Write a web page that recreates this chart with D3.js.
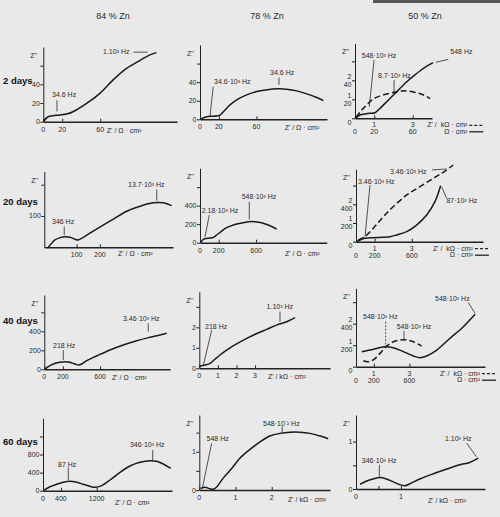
<!DOCTYPE html>
<html>
<head>
<meta charset="utf-8">
<script src="https://cdn.jsdelivr.net/npm/d3@7"></script>
<style>
    body { margin: 0; background: #e9e9e9; }
    svg { display: block; }
    .tk { font-family: "Liberation Sans", Arial, sans-serif; font-size: 7px; fill: #2a2a2a; }
    .row { font-family: "Liberation Sans", Arial, sans-serif; font-size: 9.5px; font-weight: bold; fill: #111; }
    .col { font-family: "Liberation Sans", Arial, sans-serif; font-size: 9px; fill: #2a2a2a; }
    .axis path, .axis line { stroke: #222; }
</style>
</head>
<body>
<div id="chart"></div>
<script>
// column and row titles
const columns = ["84 % Zn", "78 % Zn", "50 % Zn"];
const rowLabels = ["2 days", "20 days", "40 days", "60 days"];

// impedance curves, [Z', Z'']
// Ω·cm² unless the name ends in _k (kΩ·cm²)
const zn84_d2 = [[0,0],[5,5.3],[10,6.4],[17.6,7.2],[24.6,8.2],[31.3,10.7],[45.7,19.6],[59.7,30.4],[73.4,44.5],[87.8,57],[101.8,65.5],[112.3,71.6],[119.4,74]];
const zn78_d2 = [[0.7,0],[5.3,2.2],[10.6,3.2],[17.7,3.6],[21.3,4.6],[26.6,10],[31.9,15.5],[39,20.9],[49.6,26.3],[60.3,29.9],[71,31.7],[81.6,32.8],[92.2,32.4],[102.9,30.6],[113.5,27.4],[124.1,23.4],[131.2,20.1]];
const zn50_d2 = [[0,0],[5.2,3.5],[10.4,4.5],[15.6,5.3],[20.8,5.9],[26,10.5],[33,17.5],[39.9,24.5],[46.9,31.6],[53.8,38.5],[60.8,44.5],[67.7,50.1],[74.7,55],[80.9,58.5]];
const zn50_d2_k = [[0.05,0.05],[0.35,0.44],[0.61,0.7],[0.87,0.96],[1.21,1.14],[1.65,1.28],[2.17,1.4],[2.52,1.45],[3.04,1.38],[3.56,1.23],[3.9,1.03]];

const zn84_d20 = [[-21,0],[-7,13],[7,23.5],[29,31],[50,34],[72,32],[93,26],[107,23.5],[129,32],[157,45],[200,64.5],[258,90],[315,115],[372,131],[429,142],[472,142],[508,133]];
const zn78_d20 = [[10,0],[36,37],[89,48],[143,58],[178,83],[232,126],[285,162],[357,191],[428,209],[517,227],[588,227],[660,216],[731,191],[820,148]];
const zn50_d20 = [[7,0],[43,18],[97,36],[186,43],[294,47],[366,53],[437,72],[545,107],[652,178],[760,285],[849,428],[910,599]];
const zn50_d20_k = [[0.12,0.09],[0.48,0.27],[0.93,0.72],[1.47,1.34],[2.0,1.87],[2.73,2.5],[3.44,2.94],[4.16,3.39],[4.69,3.71],[5.23,4.1]];

const zn84_d40 = [[8,0],[43,28],[97,56],[169,74],[223,80],[276,74],[330,56],[366,45],[402,56],[456,91],[563,140],[706,203],[849,256],[994,301],[1137,337],[1244,361],[1316,379]];
const zn78_d40_k = [[0,0.1],[0.31,0.16],[0.58,0.24],[0.84,0.44],[1.11,0.65],[1.47,0.89],[2.01,1.19],[2.55,1.46],[3.09,1.7],[3.62,1.9],[4.16,2.11],[4.7,2.27],[5.15,2.47]];
const zn50_d40 = [[64,140],[157,155],[251,174],[326,186],[419,177],[532,140],[644,100],[719,84],[794,100],[907,155],[1056,264],[1206,372],[1337,487]];
const zn50_d40_k = [[0.41,0.28],[0.69,0.23],[1.01,0.34],[1.35,0.62],[1.72,0.96],[2.1,1.16],[2.47,1.24],[2.85,1.24],[3.22,1.16],[3.69,0.96]];

const zn84_d60 = [[7,0],[157,88],[306,142],[454,186],[604,208],[754,186],[902,142],[1051,97],[1163,75],[1313,111],[1499,237],[1723,407],[1946,546],[2170,628],[2394,664],[2543,650],[2691,591],[2857,496]];
const zn78_d60_k = [[0.04,0.04],[0.16,0.07],[0.3,0.03],[0.39,0.02],[0.5,0.1],[0.66,0.31],[0.9,0.57],[1.12,0.83],[1.4,1.06],[1.68,1.26],[1.95,1.41],[2.23,1.48],[2.51,1.51],[2.78,1.51],[3.06,1.48],[3.34,1.41],[3.56,1.34]];
const zn50_d60_k = [[0.09,0.1],[0.24,0.17],[0.38,0.21],[0.53,0.24],[0.68,0.21],[0.83,0.15],[0.98,0.09],[1.09,0.07],[1.2,0.11],[1.42,0.21],[1.72,0.32],[2.02,0.42],[2.31,0.51],[2.53,0.56],[2.72,0.65]];

// tick values and labels
const ticks20 = [0, 20, 60], ticks20Lab = ["0", "20", "60"], ticks20K = ["", "1", "3"];
const yTicks20 = [0, 20, 40, 60], yTicks20Lab = ["0", "20", "40", ""], yTicksK = ["", "1", "2", ""];
const ticks200 = [0, 200, 600], ticks200Lab = ["0", "200", "600"];
const yTicks200 = [0, 200, 400, 600], yTicks200Lab = ["0", "200", "400", ""];

// panel layout: box = [left, bottom, right, top] of the axes in px
const panels = [
    {box: [43.3, 121.7, 177, 47], x: [0, 141], y: [0, 80],
     xTicks: ticks20, xLab: ticks20Lab, yTicks: yTicks20, yLab: yTicks20Lab,
     unitAt: 67, unitDy: 11, solid: zn84_d2,
     notes: [{t: "34.6 Hz", at: [9.2, 26.9], line: [[14.4, 23], [14.4, 11]]},
             {t: "1.10³ Hz", at: [63, 72], line: [[95, 74.5], [110, 74.5]]}]},
    {box: [200, 119.3, 327, 45], x: [0, 135], y: [0, 80],
     xTicks: ticks20, xLab: ticks20Lab, yTicks: yTicks20, yLab: yTicks20Lab,
     unitAt: 90, unitDy: 11, solid: zn78_d2,
     notes: [{t: "34.6·10³ Hz", at: [14.9, 38.2], line: [[14.1, 35.2], [10.6, 3.6]]},
             {t: "34.6 Hz", at: [74.5, 47.9], line: [[84, 45], [84, 37]]}]},
    {box: [355, 118.3, 432, 43.3], x: [0, 80], y: [0, 79], k: 20,
     xTicks: ticks20, xLab: ticks20Lab, xLabK: ticks20K, yTicks: yTicks20, yLab: yTicks20Lab, yLabK: yTicksK,
     unitEnd: 116.7, solid: zn50_d2, dashed: zn50_d2_k,
     notes: [{t: "548·10³ Hz", at: [7, 63], line: [[19.8, 61.4], [14.9, 12.2]]},
             {t: "8.7·10³ Hz", at: [24, 42.9], line: [[40.6, 40.3], [40.6, 24.5]]},
             {t: "548 Hz", at: [99, 67.7], line: [[96.9, 62.1], [84, 59]]}]},

    {box: [44.3, 247.3, 173, 171.7], x: [-38.6, 513.8], y: [0, 241.5],
     xTicks: [100, 200], xLab: ["100", "200"], yTicks: [100, 200], yLab: ["100", ""],
     unitAt: 278, unitDy: 8.5, solid: zn84_d20,
     notes: [{t: "346 Hz", at: [-5.6, 74], line: [[47, 66], [47, 39]]},
             {t: "13.7·10³ Hz", at: [320.6, 194], line: [[444, 185], [444, 149]]}]},
    {box: [200, 242.7, 326.7, 168.3], x: [0, 1355], y: [0, 804],
     xTicks: ticks200, xLab: ticks200Lab, yTicks: yTicks200, yLab: yTicks200Lab,
     unitAt: 909, unitDy: 13, solid: zn78_d20,
     notes: [{t: "2.18·10³ Hz", at: [18, 326], line: [[99, 299], [53, 58]]},
             {t: "548·10³ Hz", at: [446, 472], line: [[527, 443], [527, 253]]}]},
    {box: [356, 241.7, 483, 169.3], x: [0, 1366], y: [0, 774], k: 200,
     xTicks: ticks200, xLab: ticks200Lab, xLabK: ticks20K, yTicks: yTicks200, yLab: yTicks200Lab, yLabK: yTicksK,
     unitEnd: 1258, solid: zn50_d20, dashed: zn50_d20_k,
     notes: [{t: "3.46·10³ Hz", at: [21.5, 617], line: [[150.5, 606], [97, 53]]},
             {t: "3.46·10³ Hz", at: [366, 724], line: [[817, 767], [975, 778]]},
             {t: "87·10³ Hz", at: [973, 409], line: [[975, 464], [921, 588]]}]},

    {box: [44.3, 369.3, 170, 295], x: [0, 1352], y: [0, 782],
     xTicks: ticks200, xLab: ticks200Lab, yTicks: yTicks200, yLab: yTicks200Lab,
     unitAt: 729, unitDy: 10.5, solid: zn84_d40,
     notes: [{t: "218 Hz", at: [94, 219], line: [[204, 203], [204, 98]]},
             {t: "3.46·10³ Hz", at: [846, 510], line: [[1118, 484], [1118, 396]]}]},
    {box: [199.3, 368.3, 330, 291.7], x: [0, 7.03], y: [0, 3.74],
     xTicks: [0, 1, 2, 3], xLab: ["0", "1", "2", "3"], yTicks: [0, 1, 2, 3], yLab: ["0", "1", "2", ""],
     unitAt: 3.69, unitDy: 10.5, kOnly: true, solid: zn78_d40_k,
     notes: [{t: "218 Hz", at: [0.31, 1.94], line: [[0.67, 1.87], [0.22, 0.16]]},
             {t: "1.10³ Hz", at: [3.62, 2.89], line: [[4.34, 2.76], [4.34, 2.27]]}]},
    {box: [356, 366.7, 485, 288.3], x: [0, 1449], y: [0, 729], k: 200,
     xTicks: ticks200, xLab: ticks200Lab, xLabK: ticks20K, yTicks: yTicks200, yLab: yTicks200Lab, yLabK: yTicksK,
     unitEnd: 1393, solid: zn50_d40, dashed: zn50_d40_k,
     notes: [{t: "548·10³ Hz", at: [79, 444], line: [[333, 419], [333, 202]], dash: true},
             {t: "548·10³ Hz", at: [457, 351], line: [[539, 332], [539, 255]]},
             {t: "548·10³ Hz", at: [888, 613], line: [[1262, 595], [1337, 497]]}]},

    {box: [43, 490.7, 172, 418.3], x: [0, 2886], y: [0, 1602], noZ: true,
     xTicks: [0, 400, 1200], xLab: ["0", "400", "1200"], yTicks: [0, 400, 800, 1200], yLab: ["0", "400", "800", ""],
     unitAt: 1611, unitDy: 14, solid: zn84_d60,
     notes: [{t: "87 Hz", at: [336, 535], line: [[566, 509], [566, 237]]},
             {t: "346·10³ Hz", at: [1946, 956], line: [[2454, 900], [2454, 679]]}]},
    {box: [199.3, 490, 330, 415], x: [0, 3.61], y: [0, 1.96],
     xTicks: [0, 1, 2], xLab: ["0", "1", "2"], yTicks: [0, 0.5, 1, 1.5], yLab: ["0", "", "1", ""],
     unitAt: 2.45, unitDy: 12, kOnly: true, solid: zn78_d60_k,
     notes: [{t: "548 Hz", at: [0.2, 1.29], line: [[0.34, 1.22], [0.09, 0.07]]},
             {t: "548·10⁻² Hz", at: [1.76, 1.68], line: [[2.29, 1.66], [2.29, 1.48]]}]},
    {box: [356, 489, 485, 415], x: [0, 2.87], y: [0, 1.56],
     xTicks: [0, 0.5, 1], xLab: ["0", "", "1"], yTicks: [0, 0.5, 1], yLab: ["0", "", "1"],
     unitAt: 1.6, unitDy: 14, kOnly: true, solid: zn50_d60_k,
     notes: [{t: "346·10³ Hz", at: [0.13, 0.54], line: [[0.52, 0.51], [0.52, 0.26]]},
             {t: "1.10³ Hz", at: [1.98, 1.02], line: [[2.46, 0.97], [2.68, 0.68]]}]}
];

const colX = [113, 267, 425];
const rowY = [84, 205, 324, 444.5];

const svg = d3.select("#chart").append("svg")
    .attr("width", 500)
    .attr("height", 517);

svg.append("rect").attr("width", 500).attr("height", 517).attr("fill", "#e9e9e9");
// dark edge of the scanned page, top right
svg.append("rect").attr("x", 373).attr("y", 0).attr("width", 127).attr("height", 3).attr("fill", "#555");

svg.selectAll(".col").data(columns).join("text")
    .attr("class", "col")
    .attr("x", (d, i) => colX[i])
    .attr("y", 19)
    .attr("text-anchor", "middle")
    .text(d => d);

svg.selectAll(".row").data(rowLabels).join("text")
    .attr("class", "row")
    .attr("x", 3)
    .attr("y", (d, i) => rowY[i])
    .text(d => d);

panels.forEach(drawPanel);

function drawPanel(p) {
    let [l, b, r, t] = p.box;
    let x = d3.scaleLinear().domain(p.x).range([l, r]);
    let y = d3.scaleLinear().domain(p.y).range([b, t]);
    let g = svg.append("g");

    // axes, ticks only (labels drawn below)
    g.append("g")
        .attr("class", "axis")
        .attr("transform", "translate(" + l + ",0)")
        .call(d3.axisLeft(y).tickValues(p.yTicks).tickFormat("").tickSize(3).tickSizeOuter(0))
        .select(".domain").attr("stroke-width", 1);
    g.append("g")
        .attr("class", "axis")
        .attr("transform", "translate(0," + b + ")")
        .call(d3.axisBottom(x).tickValues(p.xTicks).tickFormat("").tickSize(-3).tickSizeOuter(0))
        .select(".domain").attr("stroke-width", 1.5);

    let dual = !!p.k;

    // y tick labels
    g.selectAll(".yl").data(p.yTicks).join("text")
        .attr("class", "tk")
        .attr("x", l - 3.5)
        .attr("y", d => y(d) + (dual ? 6.5 : 2.5))
        .attr("text-anchor", "end")
        .text((d, i) => p.yLab[i]);
    if (dual) {
        g.selectAll(".ylk").data(p.yTicks).join("text")
            .attr("class", "tk")
            .attr("x", l - 3.5)
            .attr("y", d => y(d) - 1.5)
            .attr("text-anchor", "end")
            .text((d, i) => p.yLabK[i]);
    }

    // x tick labels
    g.selectAll(".xl").data(p.xTicks).join("text")
        .attr("class", "tk")
        .attr("x", d => x(d))
        .attr("y", b + (dual ? 16 : 10))
        .attr("text-anchor", "middle")
        .text((d, i) => p.xLab[i]);
    if (dual) {
        g.selectAll(".xlk").data(p.xTicks).join("text")
            .attr("class", "tk")
            .attr("x", d => x(d))
            .attr("y", b + 9)
            .attr("text-anchor", "middle")
            .text((d, i) => p.xLabK[i]);
    }

    // axis titles
    if (!p.noZ) {
        g.append("text").attr("class", "tk")
            .attr("x", l - 6).attr("y", t + 11)
            .attr("text-anchor", "end")
            .text("Z''");
    }
    if (dual) {
        let xe = x(p.unitEnd);
        let rows = [{txt: "Z' /  kΩ · cm²", dy: 9, dash: "3,2"}, {txt: "Ω · cm²", dy: 15.5, dash: null}];
        rows.forEach(u => {
            g.append("text").attr("class", "tk")
                .attr("x", xe).attr("y", b + u.dy)
                .attr("text-anchor", "end")
                .attr("xml:space", "preserve")
                .text(u.txt);
            g.append("line")
                .attr("x1", xe + 2).attr("x2", xe + 16)
                .attr("y1", b + u.dy - 2).attr("y2", b + u.dy - 2)
                .attr("stroke", "#222").attr("stroke-width", 1.3)
                .attr("stroke-dasharray", u.dash);
        });
    } else {
        g.append("text").attr("class", "tk")
            .attr("x", x(p.unitAt)).attr("y", b + p.unitDy)
            .attr("xml:space", "preserve")
            .text(p.kOnly ? "Z' / kΩ · cm²" : "Z' / Ω · cm²");
    }

    // curves
    let line = d3.line()
        .x(d => x(d[0]))
        .y(d => y(d[1]))
        .curve(d3.curveCatmullRom.alpha(0.5));
    g.append("path")
        .datum(p.solid)
        .attr("d", line)
        .attr("fill", "none")
        .attr("stroke", "#1a1a1a")
        .attr("stroke-width", 1.5);

    if (p.dashed) {
        // kΩ scale shares the pixels of the Ω scale
        let xk = d3.scaleLinear().domain(p.x.map(v => v / p.k)).range([l, r]);
        let yk = d3.scaleLinear().domain(p.y.map(v => v / p.k)).range([b, t]);
        let lineK = d3.line()
            .x(d => xk(d[0]))
            .y(d => yk(d[1]))
            .curve(d3.curveCatmullRom.alpha(0.5));
        g.append("path")
            .datum(p.dashed)
            .attr("d", lineK)
            .attr("fill", "none")
            .attr("stroke", "#1a1a1a")
            .attr("stroke-width", 1.5)
            .attr("stroke-dasharray", "6,3");
    }

    // frequency notes
    p.notes.forEach(n => {
        g.append("text").attr("class", "tk")
            .attr("x", x(n.at[0])).attr("y", y(n.at[1]))
            .text(n.t);
        g.append("line")
            .attr("x1", x(n.line[0][0])).attr("y1", y(n.line[0][1]))
            .attr("x2", x(n.line[1][0])).attr("y2", y(n.line[1][1]))
            .attr("stroke", "#2a2a2a")
            .attr("stroke-width", 0.8)
            .attr("stroke-dasharray", n.dash ? "2,1.5" : null);
    });
}
</script>
</body>
</html>
